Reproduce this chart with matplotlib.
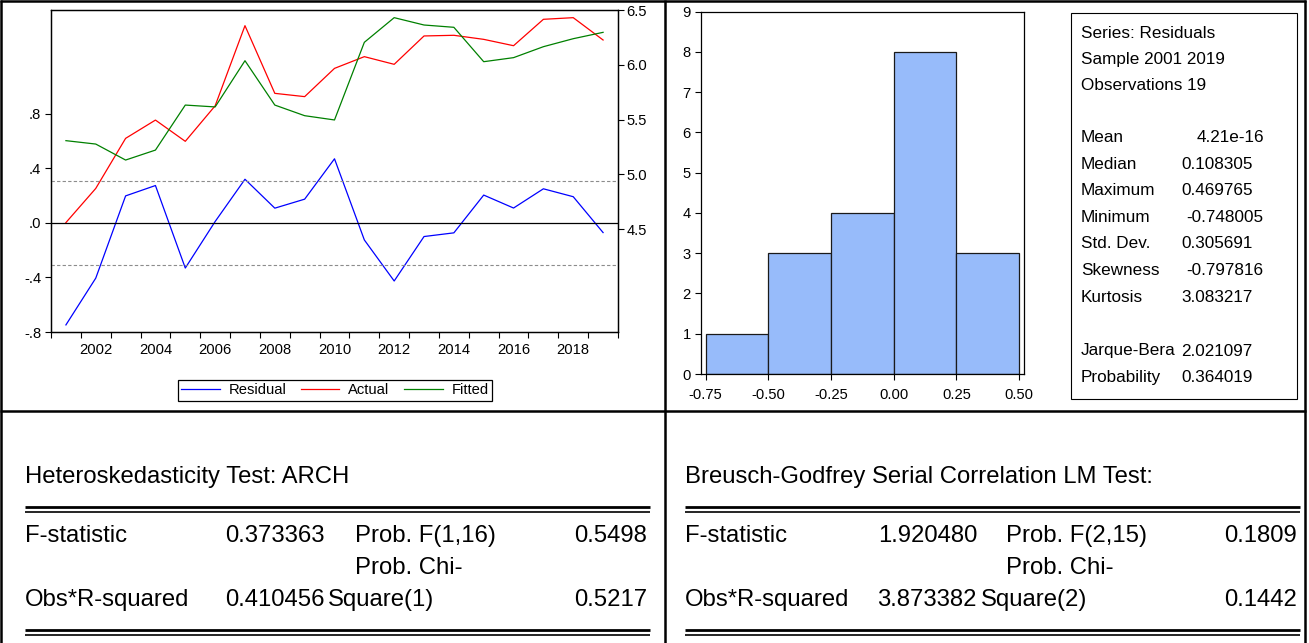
import matplotlib
matplotlib.use("Agg")
import matplotlib.pyplot as plt
from matplotlib.lines import Line2D
from matplotlib.patches import Rectangle

plt.rcParams['font.family'] = ['Liberation Sans', 'DejaVu Sans']

# ---------------- data ----------------
years = list(range(2001, 2020))
residual = [-0.748, -0.405, 0.198, 0.274, -0.331, 0.010, 0.320, 0.108, 0.174, 0.470,
            -0.125, -0.426, -0.100, -0.073, 0.204, 0.109, 0.250, 0.192, -0.071]
actual = [4.559, 4.871, 5.328, 5.495, 5.301, 5.625, 6.357, 5.739, 5.709, 5.967,
          6.074, 6.004, 6.263, 6.269, 6.232, 6.174, 6.415, 6.430, 6.226]
fitted = [5.307, 5.276, 5.130, 5.221, 5.632, 5.615, 6.037, 5.632, 5.535, 5.496,
          6.205, 6.430, 6.363, 6.342, 6.028, 6.065, 6.165, 6.238, 6.296]
resid_std = 0.305691

left_ticks = [-0.8, -0.4, 0.0, 0.4, 0.8]
left_labels = ["-.8", "-.4", ".0", ".4", ".8"]
right_ticks = [4.5, 5.0, 5.5, 6.0, 6.5]
right_labels = ["4.5", "5.0", "5.5", "6.0", "6.5"]
year_labels = [2002, 2004, 2006, 2008, 2010, 2012, 2014, 2016, 2018]

hist_edges = [-0.75, -0.50, -0.25, 0.00, 0.25, 0.50]
hist_counts = [1, 3, 4, 8, 3]
hist_xlabels = ["-0.75", "-0.50", "-0.25", "0.00", "0.25", "0.50"]

stats_header = ["Series: Residuals", "Sample 2001 2019", "Observations 19"]
stats_names = ["Mean", "Median", "Maximum", "Minimum", "Std. Dev.", "Skewness", "Kurtosis"]
stats_values = ["4.21e-16", "0.108305", "0.469765", "-0.748005", "0.305691", "-0.797816", "3.083217"]
jb_names = ["Jarque-Bera", "Probability"]
jb_values = ["2.021097", "0.364019"]

arch_title = "Heteroskedasticity Test: ARCH"
arch_rows = [("F-statistic", "0.373363", "Prob. F(1,16)", "0.5498"),
             ("Obs*R-squared", "0.410456", "Prob. Chi-\nSquare(1)", "0.5217")]
bg_title = "Breusch-Godfrey Serial Correlation LM Test:"
bg_rows = [("F-statistic", "1.920480", "Prob. F(2,15)", "0.1809"),
           ("Obs*R-squared", "3.873382", "Prob. Chi-\nSquare(2)", "0.1442")]

# ---------------- figure ----------------
W, H = 1309, 643
fig = plt.figure(figsize=(W / 100, H / 100), dpi=100)
fig.patch.set_facecolor('white')

def fx(px):
    return px / W

def fy(py):
    return 1 - py / H

def rect(l, t, r, b):
    return [fx(l), fy(b), (r - l) / W, (b - t) / H]

FS = 10.6

# ---- residual / actual / fitted ----
ax1 = fig.add_axes(rect(51, 10, 618, 332))
ax2 = ax1.twinx()
ax1.set_zorder(ax2.get_zorder() + 1)
ax1.patch.set_visible(False)

l_res, = ax1.plot(years, residual, color='#0000FF', lw=0.9, label='Residual')
l_act, = ax2.plot(years, actual, color='#FF0000', lw=0.9, label='Actual')
l_fit, = ax2.plot(years, fitted, color='#008000', lw=0.9, label='Fitted')
ax1.axhline(0, color='black', lw=0.9)
for s in (resid_std, -resid_std):
    ax1.axhline(s, color='#8c8c8c', lw=0.8, ls=(0, (3, 2)))

ax1.set_xlim(2000.5, 2019.5)
ax1.set_ylim(-0.8, 1.561)
ax2.set_ylim(3.56, 6.5)
ax1.set_yticks(left_ticks)
ax1.set_yticklabels(left_labels, fontsize=FS)
ax2.set_yticks(right_ticks)
ax2.set_yticklabels(right_labels, fontsize=FS)
ax1.set_xticks([y + 0.5 for y in range(2000, 2020)])
ax1.set_xticklabels([])
ax1.set_xticks(year_labels, minor=True)
ax1.set_xticklabels([str(y) for y in year_labels], minor=True, fontsize=FS)
ax1.tick_params(axis='x', which='major', direction='out', length=4, width=0.8)
ax1.tick_params(axis='x', which='minor', length=0, pad=8)
ax1.tick_params(axis='y', direction='out', length=4, width=0.8, pad=3)
ax2.tick_params(axis='y', direction='out', length=4, width=0.8, pad=2)
for ax in (ax1, ax2):
    for sp in ax.spines.values():
        sp.set_linewidth(0.9)
        sp.set_color('black')

fig.legend(handles=[l_res, l_act, l_fit], loc='center',
           bbox_to_anchor=(fx(335), fy(390.5)), ncol=3, fontsize=FS,
           frameon=True, fancybox=False, edgecolor='black', framealpha=1,
           handlelength=2.6, handletextpad=0.6, columnspacing=1.0,
           borderpad=0.25).get_frame().set_linewidth(0.9)

# ---- histogram ----
ax3 = fig.add_axes(rect(700.7, 11.7, 1024.3, 374))
widths = [hist_edges[i + 1] - hist_edges[i] for i in range(len(hist_counts))]
ax3.bar(hist_edges[:-1], hist_counts, width=widths, align='edge',
        color='#97BBFA', edgecolor='#1a1a1a', linewidth=0.9)
ax3.set_xlim(-0.77, 0.521)
ax3.set_ylim(0, 9)
ax3.set_yticks(range(0, 10))
ax3.set_yticklabels([str(i) for i in range(0, 10)], fontsize=FS)
ax3.set_xticks(hist_edges)
ax3.set_xticklabels(hist_xlabels, fontsize=FS)
ax3.tick_params(direction='out', length=4, width=0.8, pad=3)
ax3.tick_params(axis='x', pad=6)
for sp in ax3.spines.values():
    sp.set_linewidth(0.9)
    sp.set_color('black')

# ---- stats box ----
fig.add_artist(Rectangle((fx(1071), fy(399)), (1297 - 1071) / W, (399 - 12.7) / H,
                         transform=fig.transFigure, fill=False,
                         edgecolor='black', linewidth=0.8))
SFS = 12.3

def value_x(v):
    if v.startswith('-'):
        return 1186
    if 'e' in v:
        return 1197
    return 1181

ys = 33
for t in stats_header:
    fig.text(fx(1081), fy(ys), t, fontsize=SFS, va='center', ha='left')
    ys += 26.4
ys = 137.5
for n, v in zip(stats_names, stats_values):
    fig.text(fx(1081), fy(ys), n, fontsize=SFS, va='center', ha='left')
    fig.text(fx(value_x(v)), fy(ys), v, fontsize=SFS, va='center', ha='left')
    ys += 26.6
ys = 351
for n, v in zip(jb_names, jb_values):
    fig.text(fx(1081), fy(ys), n, fontsize=SFS, va='center', ha='left')
    fig.text(fx(value_x(v)), fy(ys), v, fontsize=SFS, va='center', ha='left')
    ys += 26.6

# ---- grid lines ----
def hline(y, x0, x1, lw):
    fig.add_artist(Line2D([fx(x0), fx(x1)], [fy(y), fy(y)], transform=fig.transFigure,
                          color='black', lw=lw, solid_capstyle='butt'))

def vline(x, y0, y1, lw):
    fig.add_artist(Line2D([fx(x), fx(x)], [fy(y0), fy(y1)], transform=fig.transFigure,
                          color='black', lw=lw, solid_capstyle='butt'))

hline(1.2, 0, 1306, 1.8)
hline(411, 0, 1306, 1.8)
vline(1.2, 0, 643, 1.8)
vline(665, 0, 643, 1.8)
vline(1305, 0, 643, 1.8)

# ---- bottom tables ----
TFS = 17.2

def table(x_left, x_right, col2_right, col3_left, col3b_left, title, rows):
    fig.text(fx(x_left), fy(477), title, fontsize=TFS, va='center', ha='left')
    hline(506.5, x_left, x_right, 2.0)
    hline(511.5, x_left, x_right, 1.2)
    r1, r2 = rows
    fig.text(fx(x_left), fy(536), r1[0], fontsize=TFS, va='center', ha='left')
    fig.text(fx(col2_right), fy(536), r1[1], fontsize=TFS, va='center', ha='right')
    fig.text(fx(col3_left), fy(536), r1[2], fontsize=TFS, va='center', ha='left')
    fig.text(fx(x_right - 3), fy(536), r1[3], fontsize=TFS, va='center', ha='right')
    l1, l2 = r2[2].split("\n")
    fig.text(fx(x_left), fy(600), r2[0], fontsize=TFS, va='center', ha='left')
    fig.text(fx(col2_right), fy(600), r2[1], fontsize=TFS, va='center', ha='right')
    fig.text(fx(col3_left), fy(568), l1, fontsize=TFS, va='center', ha='left')
    fig.text(fx(col3b_left), fy(600), l2, fontsize=TFS, va='center', ha='left')
    fig.text(fx(x_right - 3), fy(600), r2[3], fontsize=TFS, va='center', ha='right')
    hline(629.5, x_left, x_right, 2.0)
    hline(634.5, x_left, x_right, 1.2)

table(25, 650, 325, 355, 328, arch_title, arch_rows)
table(685, 1300, 977, 1006, 981, bg_title, bg_rows)

fig.savefig("out.png", dpi=100, facecolor='white')
